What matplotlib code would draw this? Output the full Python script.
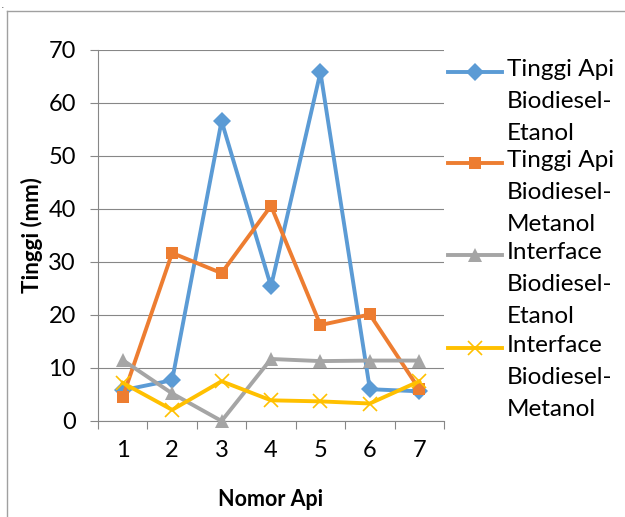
import matplotlib
matplotlib.use("Agg")
import matplotlib.pyplot as plt
from matplotlib.lines import Line2D
import numpy as np

plt.rcParams['font.family'] = ['Lato', 'DejaVu Sans']

categories = [1, 2, 3, 4, 5, 6, 7]
tinggi_etanol = [5.8, 7.7, 56.6, 25.4, 65.8, 6.0, 5.6]
tinggi_metanol = [4.5, 31.7, 27.9, 40.6, 18.1, 20.1, 6.0]
interface_etanol = [11.5, 5.2, 0.0, 11.7, 11.3, 11.4, 11.4]
interface_metanol = [7.2, 2.1, 7.5, 3.9, 3.7, 3.3, 7.5]
series_labels = ["Tinggi Api\nBiodiesel-\nEtanol", "Tinggi Api\nBiodiesel-\nMetanol",
                 "Interface\nBiodiesel-\nEtanol", "Interface\nBiodiesel-\nMetanol"]
y_ticks = [0, 10, 20, 30, 40, 50, 60, 70]

colors = ['#5B9BD5', '#ED7D31', '#A5A5A5', '#FFC000']
markers = ['D', 's', '^', 'x']
msizes = [9, 9, 10, 10]

fig = plt.figure(figsize=(6.25, 5.17), dpi=100)
ax = fig.add_axes([0.1568, 0.1857, 0.5536, 0.7176])

data = [tinggi_etanol, tinggi_metanol, interface_etanol, interface_metanol]
for vals, c, m, ms in zip(data, colors, markers, msizes):
    ax.plot(categories, vals, color=c, lw=2.8, marker=m, markersize=ms,
            markeredgewidth=1.2 if m == 'x' else 0, markeredgecolor=c, clip_on=False, zorder=3)

ax.set_xlim(0.5, 7.5)
ax.set_ylim(0, 70)
ax.set_yticks(y_ticks)
ax.set_xticks(categories)
ax.set_xticks(np.arange(0.5, 8.0, 1.0), minor=True)
ax.tick_params(axis='x', which='major', length=0, pad=14, labelsize=17)
ax.tick_params(axis='x', which='minor', length=6, color='#878787', width=0.8, direction='out')
ax.tick_params(axis='y', length=6, color='#878787', width=0.8, direction='out', pad=10, labelsize=17)
ax.grid(axis='y', color='#878787', lw=0.8)
ax.set_axisbelow(True)
for s in ['top', 'right']:
    ax.spines[s].set_visible(False)
for s in ['left', 'bottom']:
    ax.spines[s].set_color('#878787')
    ax.spines[s].set_linewidth(0.8)

ax.set_ylabel("Tinggi (mm)", fontsize=16, fontweight='bold', labelpad=4)
ax.set_xlabel("Nomor Api", fontsize=15.5, fontweight='bold', labelpad=20)

# legend (manual)
entry_y = [72, 163, 255, 348]
for lbl, c, m, ms, yp in zip(series_labels, colors, markers, msizes, entry_y):
    yf = 1 - yp / 517
    fig.add_artist(Line2D([448 / 625, 502 / 625], [yf, yf], color=c, lw=2.8,
                          transform=fig.transFigure))
    fig.add_artist(Line2D([475 / 625], [yf], color=c, marker=m, markersize=ms,
                          markeredgewidth=1.2 if m == 'x' else 0, markeredgecolor=c,
                          transform=fig.transFigure))
    fig.text(507 / 625, 1 - (yp - 13) / 517, lbl, fontsize=17.5, va='top', ha='left',
             linespacing=1.65)

# outer frame
fig.add_artist(Line2D([7 / 625, 7 / 625], [0, 1 - 11 / 517], color='#A0A0A0', lw=1,
                      transform=fig.transFigure))
fig.add_artist(Line2D([7 / 625, 1], [1 - 11 / 517, 1 - 11 / 517], color='#A0A0A0', lw=1,
                      transform=fig.transFigure))
fig.text(1.5 / 625, 1 - 9.5 / 517, ".", fontsize=5, fontweight='bold', va='bottom', ha='left')

fig.savefig("out.png", dpi=100)
